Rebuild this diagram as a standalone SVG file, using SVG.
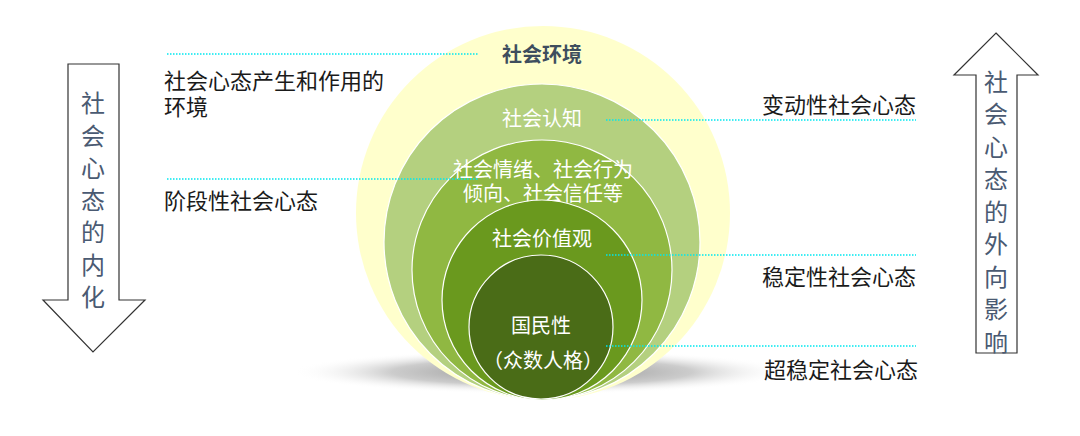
<svg xmlns="http://www.w3.org/2000/svg" width="1080" height="436" viewBox="0 0 1080 436">
<style>
.lbl{font-family:"Noto Sans CJK SC","Liberation Sans",sans-serif;font-size:22px;fill:#1a1a1a;}
.inner{font-family:"Noto Sans CJK SC","Liberation Sans",sans-serif;font-size:20px;fill:#ffffff;text-anchor:middle;dominant-baseline:central;}
.env{font-family:"Noto Sans CJK SC","Liberation Sans",sans-serif;font-size:20px;fill:#3e4e5e;font-weight:bold;text-anchor:middle;dominant-baseline:central;}
.vert{font-family:"Noto Sans CJK SC","Liberation Sans",sans-serif;font-size:24px;fill:#4a5a72;text-anchor:middle;dominant-baseline:central;}
.arrow{fill:#ffffff;stroke:#333333;stroke-width:1.2;}
.ring{stroke:#ffffff;stroke-width:1.2;}
.dot{stroke:#00e8f0;stroke-width:1.5;stroke-dasharray:1.5 1.5;fill:none;}
</style>
<defs>
<radialGradient id="shadow" cx="0.5" cy="0.5" r="0.5">
<stop offset="0" stop-color="#777777" stop-opacity="0.9"/>
<stop offset="0.6" stop-color="#aaaaaa" stop-opacity="0.6"/>
<stop offset="1" stop-color="#ffffff" stop-opacity="0"/>
</radialGradient>
</defs>
<rect width="1080" height="436" fill="#ffffff"/>
<ellipse cx="542" cy="372" rx="250" ry="22" fill="url(#shadow)"/>
<g id="circle-env">
<circle cx="543" cy="213" r="187" fill="#ffffcc"/>
<text class="env" x="542" y="53">社会环境</text>
</g>
<g id="circle-cognition">
<circle class="ring" cx="542" cy="242" r="158" fill="#b4d07f"/>
<text class="inner" x="542" y="117">社会认知</text>
</g>
<g id="circle-emotion">
<circle class="ring" cx="542" cy="270" r="130" fill="#90b842"/>
<text class="inner" x="543" y="168">社会情绪、社会行为</text>
<text class="inner" x="543" y="192">倾向、社会信任等</text>
</g>
<g id="circle-values">
<circle class="ring" cx="542" cy="300" r="100" fill="#6a991e"/>
<text class="inner" x="542" y="237">社会价值观</text>
</g>
<g id="circle-national">
<circle class="ring" cx="541" cy="327" r="72" fill="#4a6c17"/>
<text class="inner" x="541" y="324">国民性</text>
<text class="inner" x="543" y="359">（众数人格）</text>
</g>
<g id="connectors">
<line class="dot" x1="167" y1="54" x2="478" y2="54"/>
<line class="dot" x1="167" y1="179" x2="478" y2="179"/>
<line class="dot" x1="606" y1="120" x2="916" y2="120"/>
<line class="dot" x1="606" y1="255" x2="916" y2="255"/>
<line class="dot" x1="606" y1="346" x2="916" y2="346"/>
</g>
<g id="label-env">
<text class="lbl" x="164" y="89">社会心态产生和作用的</text>
<text class="lbl" x="164" y="115">环境</text>
</g>
<g id="label-stage">
<text class="lbl" x="164" y="209">阶段性社会心态</text>
</g>
<g id="label-variable">
<text class="lbl" x="916" y="113" text-anchor="end">变动性社会心态</text>
</g>
<g id="label-stable">
<text class="lbl" x="916" y="285" text-anchor="end">稳定性社会心态</text>
</g>
<g id="label-superstable">
<text class="lbl" x="918" y="378" text-anchor="end">超稳定社会心态</text>
</g>
<g id="arrow-down">
<polygon class="arrow" points="68,64 119,64 119,300 145,300 93,352 43,300 68,300"/>
<text class="vert"><tspan x="93" y="101">社</tspan><tspan x="93" y="134">会</tspan><tspan x="93" y="166">心</tspan><tspan x="93" y="198">态</tspan><tspan x="93" y="230">的</tspan><tspan x="93" y="263">内</tspan><tspan x="93" y="295">化</tspan></text>
</g>
<g id="arrow-up">
<polygon class="arrow" points="996,33 1038,75 1017,75 1017,353 976,353 976,75 954,75"/>
<text class="vert"><tspan x="996" y="80">社</tspan><tspan x="996" y="112">会</tspan><tspan x="996" y="145">心</tspan><tspan x="996" y="177">态</tspan><tspan x="996" y="210">的</tspan><tspan x="996" y="242">外</tspan><tspan x="996" y="275">向</tspan><tspan x="996" y="307">影</tspan><tspan x="996" y="340">响</tspan></text>
</g>
</svg>
